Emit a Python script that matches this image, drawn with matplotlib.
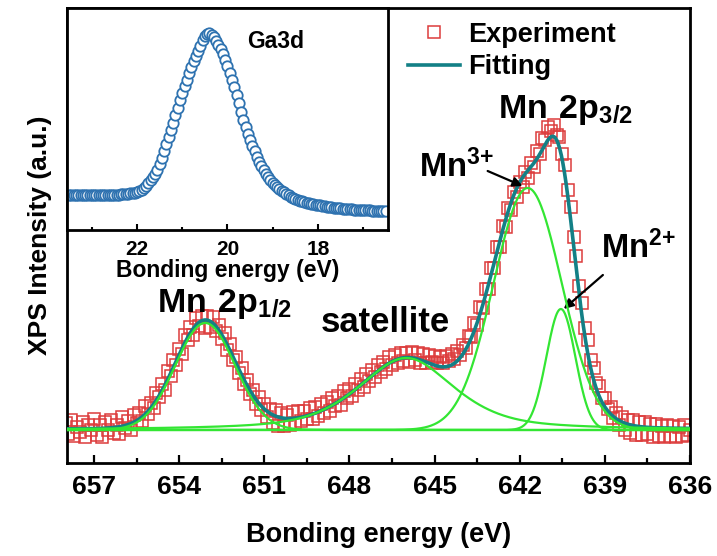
import numpy as np
import matplotlib
matplotlib.use('Agg')
import matplotlib.pyplot as plt
from matplotlib.ticker import MultipleLocator
from matplotlib.lines import Line2D

# %% Data
# Mn 2p spectrum, one point every 0.1 eV from 658.0 eV down to 636.0 eV
mn_e_start = 658.0
mn_e_step = 0.1
mn_counts = [
    70, -40, 100, -60, 30, -20, 80, -70, 50, 0,
    110, -50, 50, -70, 80, 0, 100, -30, 50, -40,
    130, 20, 90, 0, 150, 70, 170, 90, 240, 160,
    270, 220, 370, 330, 460, 400, 590, 540, 700, 650,
    810, 760, 950, 900, 1030, 950, 1120, 1040, 1140, 1020,
    1140, 1030, 1130, 990, 1050, 910, 970, 800, 860, 700,
    730, 570, 620, 460, 500, 360, 400, 260, 330, 200,
    260, 130, 210, 70, 200, 40, 170, 40, 150, 50,
    180, 70, 190, 90, 190, 110, 220, 110, 230, 140,
    260, 170, 280, 190, 320, 240, 340, 250, 390, 320,
    410, 340, 460, 400, 510, 430, 560, 490, 600, 530,
    650, 580, 680, 610, 730, 650, 750, 670, 770, 690,
    770, 680, 780, 700, 770, 670, 760, 670, 750, 680,
    740, 670, 730, 670, 740, 690, 760, 710, 790, 750,
    850, 820, 940, 930, 1070, 1050, 1230, 1220, 1410, 1410,
    1620, 1620, 1830, 1830, 2040, 2030, 2220, 2200, 2380, 2330,
    2480, 2430, 2580, 2520, 2670, 2630, 2790, 2760, 2920, 2900,
    3030, 2990, 3050, 2950, 2930, 2760, 2650, 2400, 2230, 1930,
    1740, 1440, 1270, 1020, 900, 700, 620, 470, 440, 320,
    320, 210, 230, 120, 170, 50, 130, 0, 100, -30,
    100, -50, 80, -50, 80, -40, 60, -70, 60, -60,
    40, -70, 50, -60, 40, -70, 30, -60, 50, -50,
    0,
]

# fitted components (pseudo-Voigt): centre, height, FWHM, Lorentz fraction
peak_labels = ['Mn 2p1/2', 'satellite', 'Mn3+', 'Mn2+']
peak_center = [653.08, 646.0, 641.72, 640.55]
peak_height = [1070, 720, 2420, 1210]
peak_fwhm = [2.47, 4.0, 2.83, 1.20]
peak_lorentz = [0.0, 0.57, 0.0, 0.0]
background = 0.0

# Ga 3d inset, one point every 0.05 eV from 23.5 eV down to 16.5 eV
ga_e_start = 23.5
ga_e_step = 0.05
ga_counts = [
    350, 352, 348, 350, 353, 351, 349, 350, 352, 350, 348, 350, 351,
    350, 352, 350, 349, 350, 351, 352, 353, 354, 355, 356, 358, 360,
    362, 366, 370, 375, 382, 393, 405, 420, 442, 468,
    498, 530, 565, 605, 660, 725, 795, 860, 930, 1000,
    1075, 1150, 1225, 1300, 1370, 1440, 1505, 1575, 1635, 1690,
    1740, 1790, 1845, 1900, 1940, 1965, 1970, 1955, 1930, 1895,
    1855, 1810, 1765, 1705, 1640, 1575, 1505, 1430, 1350, 1270,
    1185, 1105, 1035, 965, 900, 845, 790, 735, 685, 640,
    600, 562, 530, 500, 475, 452, 430, 410, 392, 376,
    360, 346, 333, 322, 312, 303, 295, 288, 281, 275,
    269, 264, 259, 254, 250, 246, 242, 238, 234, 231,
    228, 225, 222, 219, 217, 214, 212, 210, 208, 206,
    204, 203, 202, 200, 199, 198, 197, 196, 195, 194,
    193, 192, 192, 191, 190,
]

mn_energy = mn_e_start - mn_e_step * np.arange(len(mn_counts))
ga_energy = ga_e_start - ga_e_step * np.arange(len(ga_counts))


def pseudo_voigt(e, c, h, w, eta):
    d = (e - c) / w
    gauss = np.exp(-4 * np.log(2) * d**2)
    lorentz = 1.0 / (1.0 + 4 * d**2)
    return h * (eta * lorentz + (1 - eta) * gauss)


# %% Style
plt.rcParams['font.family'] = ['Liberation Sans', 'DejaVu Sans']
plt.rcParams['font.weight'] = 'bold'
plt.rcParams['mathtext.fontset'] = 'custom'
plt.rcParams['mathtext.bf'] = 'Liberation Sans:bold'
plt.rcParams['mathtext.rm'] = 'Liberation Sans:bold'

red = '#dd3c3c'
teal = '#138086'
green = '#33e633'
blue = '#2e72b0'

fig = plt.figure(figsize=(7.17, 5.56), dpi=100)
ax = fig.add_axes([0.0934, 0.1673, 0.869, 0.8183])

# %% Main spectrum
fit_e = np.linspace(657.95, 636.0, 800)
components = [pseudo_voigt(fit_e, c, h, w, eta) for c, h, w, eta in
              zip(peak_center, peak_height, peak_fwhm, peak_lorentz)]
total_fit = background + np.sum(components, axis=0)

ax.plot(mn_energy, mn_counts, 's', ms=9, mfc='none', mec=red, mew=1.1, zorder=2)
ax.plot(fit_e, total_fit, color=teal, lw=2.6, zorder=3)
for comp in components:
    ax.plot(fit_e, background + comp, color=green, lw=1.6, zorder=4)
ax.plot(fit_e, np.full_like(fit_e, background), color=green, lw=1.6, zorder=4)

ax.set_xlim(657.95, 636.0)
ax.set_ylim(-330, 4220)
ax.xaxis.set_major_locator(MultipleLocator(3))
ax.xaxis.set_minor_locator(MultipleLocator(1.5))
ax.tick_params(axis='x', which='major', direction='in', length=6, width=1.6,
               labelsize=19, pad=9, top=False)
ax.tick_params(axis='x', which='minor', direction='in', length=3.5, width=1.6, top=False)
ax.tick_params(axis='y', left=False, right=False, labelleft=False)
for sp in ax.spines.values():
    sp.set_linewidth(2)
ax.set_xlabel('Bonding energy (eV)', fontsize=19.5, fontweight='bold', labelpad=16)
ax.set_ylabel('XPS Intensity (a.u.)', fontsize=19, fontweight='bold', labelpad=11)

# labels and arrows
ax.text(642.78, 3120, r'$\mathbf{Mn\ 2p_{3/2}}$', fontsize=24.5, ha='left', va='baseline')
ax.text(654.78, 1180, r'$\mathbf{Mn\ 2p_{1/2}}$', fontsize=24.5, ha='left', va='baseline')
ax.text(649.02, 980, 'satellite', fontsize=25, fontweight='bold', ha='left', va='baseline')
ax.text(645.56, 2530, r'$\mathbf{Mn^{3{+}}}$', fontsize=23.5, ha='left', va='baseline')
ax.text(639.14, 1720, r'$\mathbf{Mn^{2{+}}}$', fontsize=23.5, ha='left', va='baseline')
arrow = dict(arrowstyle='-|>', color='k', lw=1.6, mutation_scale=14, shrinkA=0, shrinkB=0)
ax.annotate('', xy=(641.9, 2440), xytext=(643.13, 2590), arrowprops=arrow)
ax.annotate('', xy=(640.45, 1210), xytext=(639.07, 1550), arrowprops=arrow)

handles = [Line2D([], [], ls='none', marker='s', ms=9, mfc='none', mec=red, mew=1.1),
           Line2D([], [], color=teal, lw=2.6)]
ax.legend(handles, ['Experiment', 'Fitting'], loc='upper left',
          bbox_to_anchor=(0.525, 1.0), frameon=False,
          handlelength=1.95, handletextpad=0.3, borderpad=0, labelspacing=0.25,
          prop={'weight': 'bold', 'size': 19.5})

# %% Ga 3d inset
axi = fig.add_axes([0.0934, 0.5863, 0.4477, 0.3993])
axi.plot(ga_energy, ga_counts, 'o', ms=7.5, mfc='white', mec=blue, mew=1.3)
axi.set_xlim(23.55, 16.45)
axi.set_ylim(0, 2220)
axi.xaxis.set_major_locator(MultipleLocator(2))
axi.xaxis.set_minor_locator(MultipleLocator(1))
axi.tick_params(axis='x', which='major', direction='in', length=4, width=1.5,
                labelsize=15, pad=7, top=False)
axi.tick_params(axis='x', which='minor', direction='in', length=2, width=1.5, top=False)
axi.tick_params(axis='y', left=False, right=False, labelleft=False)
for sp in axi.spines.values():
    sp.set_linewidth(2)
axi.set_xlabel('Bonding energy (eV)', fontsize=16.5, fontweight='bold', labelpad=0)
axi.text(0.56, 0.82, 'Ga3d', transform=axi.transAxes, fontsize=16.5,
         fontweight='bold', ha='left', va='baseline')

fig.savefig('out.png', dpi=100)
